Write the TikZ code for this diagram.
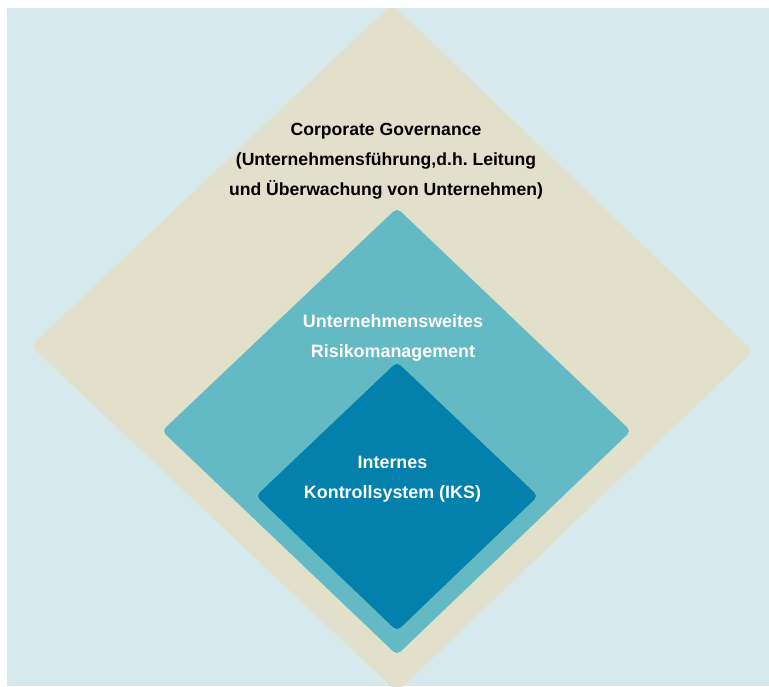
\documentclass[tikz,border=0pt]{standalone}
\usepackage{fontspec}
\setmainfont{Liberation Sans}
\definecolor{bgblue}{HTML}{D6EAED}
\definecolor{beigefill}{HTML}{E2DFCA}
\definecolor{midteal}{HTML}{63BAC4}
\definecolor{deepblue}{HTML}{0380AC}
\begin{document}
\begin{tikzpicture}[x=1pt,y=-1pt,
  lbl/.style={anchor=base, inner sep=0pt},
  dark/.style={lbl, text=black, font=\fontsize{17.6}{20}\selectfont\bfseries},
  light/.style={lbl, text=white, font=\fontsize{17.9}{20}\selectfont\bfseries},
  shapefill/.style={rounded corners=5pt}]
\useasboundingbox (0,0) rectangle (769,686);
\fill[white] (0,0) rectangle (769,686);
\fill[bgblue] (7,8) rectangle (769,686);
\begin{scope}
\clip (7,8) rectangle (769,686);
\fill[beigefill, shapefill] (392,4) -- (753,351) -- (397,692) -- (31,346) -- cycle;
\end{scope}
\fill[midteal, shapefill] (397,208) -- (631,431) -- (397,655) -- (162,431) -- cycle;
\fill[deepblue, shapefill] (397,362) -- (538,496) -- (397,631) -- (256,496) -- cycle;
\node[dark] (cg1) at (386,135) {Corporate Governance};
\node[dark] (cg2) at (386,165) {(Unternehmensführung,d.h.\ Leitung};
\node[dark] (cg3) at (386,195) {und Überwachung von Unternehmen)};
\node[light] (rm1) at (393,327) {Unternehmensweites};
\node[light] (rm2) at (393,357) {Risikomanagement};
\node[light] (iks1) at (392.5,468) {Internes};
\node[light] (iks2) at (392.5,498) {Kontrollsystem (IKS)};
\end{tikzpicture}
\end{document}
